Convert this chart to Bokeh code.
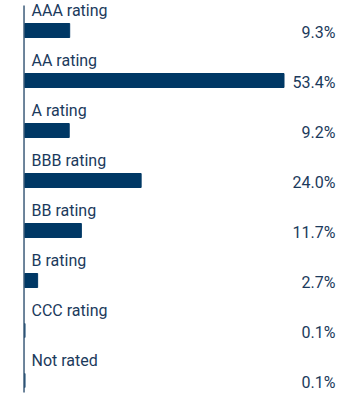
from bokeh.plotting import figure
from bokeh.models import Range1d, ColumnDataSource
from bokeh.core.properties import value
from bokeh.embed import file_html
from bokeh.resources import INLINE

categories = ["AAA rating", "AA rating", "A rating", "BBB rating", "BB rating", "B rating", "CCC rating", "Not rated"]
values = [9.3, 53.4, 9.2, 24.0, 11.7, 2.7, 0.1, 0.1]
value_labels = ["9.3%", "53.4%", "9.2%", "24.0%", "11.7%", "2.7%", "0.1%", "0.1%"]

BAR = "#003865"
TXT = "#1b3a5c"

idx = list(range(len(categories)))
src = ColumnDataSource(dict(
    y=idx,
    v=values,
    cat=categories,
    lab=value_labels,
    ylab=[i - 0.40 for i in idx],
    yval=[i + 0.03 for i in idx],
    xlab=[1.44] * len(idx),
    xval=[64.0] * len(idx),
))

p = figure(width=360, height=396, output_backend="svg", toolbar_location=None,
           x_range=Range1d(-4.94, 69.14), y_range=Range1d(7.32, -0.6),
           min_border=0, min_border_left=0, min_border_right=0, min_border_top=0, min_border_bottom=0)
p.axis.visible = False
p.grid.visible = False
p.outline_line_color = None

p.hbar(y="y", left=0, right="v", height=0.28, color=BAR, source=src)
p.segment(x0=[-0.1], y0=[-0.5], x1=[-0.1], y1=[7.24], line_color="#3d5c7a", line_width=1.5)

p.text(x="xlab", y="ylab", text="cat", source=src, text_font=value("Roboto"),
       text_font_size="16px", text_color=TXT, text_baseline="alphabetic", text_align="left")
p.text(x="xval", y="yval", text="lab", source=src, text_font=value("Roboto"),
       text_font_size="16px", text_color=TXT, text_baseline="middle", text_align="right")

open("out.html", "w").write(file_html(p, INLINE))
